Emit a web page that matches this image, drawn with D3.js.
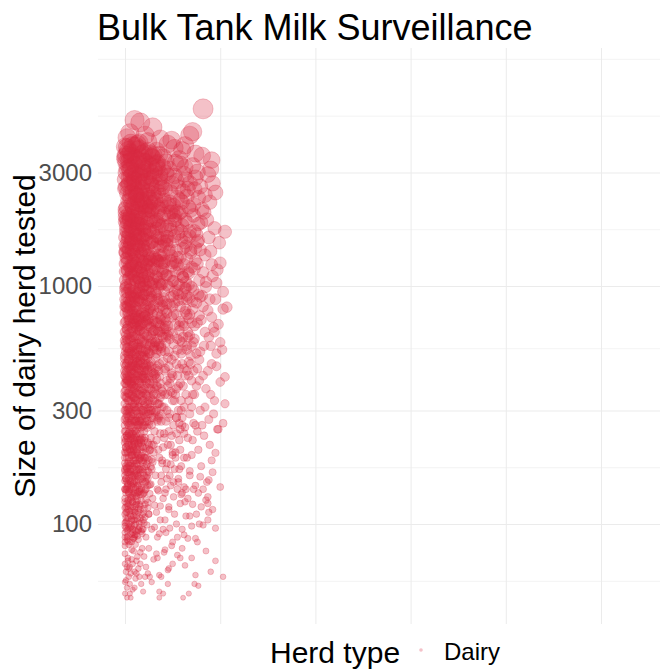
<!DOCTYPE html>
<html>
<head>
<meta charset="utf-8">
<script src="https://cdn.jsdelivr.net/npm/d3@7"></script>
<style>
  body { margin: 0; background: #fff; }
  svg { font-family: "Liberation Sans", Arial, sans-serif; display: block; }
  .tick text { fill: #4d4d4d; font-size: 24px; }
  .grid line { stroke: #ebebeb; }
</style>
</head>
<body>
<svg width="664" height="672"></svg>
<script>
"use strict";

const title = "Bulk Tank Milk Surveillance";
const yAxisLabel = "Size of dairy herd tested";
const legendTitle = "Herd type";
const herdTypes = ["Dairy"];

// y breaks (log scale) and the minor lines between them
const yTicks = [100, 300, 1000, 3000];
const yMinorTicks = [57.7, 173.2, 547.7, 1732, 5196, 9000];
const xTicks = [0, 100, 200, 300, 400, 500];

// [x position, herd size], grouped by herd size
const bandTop = [[82,5550],[10,4980],[16,4870],[29,4650],[2,4200],[37,4150],[68,4300],[71,4450],[5,4400],[21,4300],[45,3950],[52,3800],[24,4050],[8,3900],[13,3750],[33,3700],[0,3850],[60,3720],[49,4100],[18,3600],[4,3550],[28,3500],[40,3480],[11,3450],[57,3420],[74,3600],[0,3500],[6,3650],[36,3560],[15,4000],[81,3530],[91,3380],[63,3900]];

const band2k = [[1,3300],[4,3150],[7,3380],[10,3020],[13,3250],[16,2950],[19,3350],[22,3100],[25,2900],[28,3200],[31,3050],[34,3300],[37,2850],[40,3150],[43,2980],
  [0,2800],[3,2650],[6,2900],[9,2700],[12,2550],[15,2750],[18,2600],[21,2850],[24,2500],[27,2700],[30,2450],[33,2600],[36,2750],[39,2400],[42,2550],
  [2,2450],[5,2300],[8,2500],[11,2350],[14,2200],[17,2400],[20,2250],[23,2150],[26,2350],[29,2100],[32,2300],[35,2050],[38,2200],[41,2000],[44,2150],
  [0,2100],[3,2000],[6,2200],[9,2050],[12,2120],[15,2020],[18,2150],[21,2080],[24,2010],[27,2250],[1,2600],[4,2850],[7,2150],[10,2780],[13,2420],[16,2480],[19,3000],[22,2330],[25,3250],[28,2060],
  [46,3100],[49,2700],[52,2900],[55,2350],[58,3250],[61,2500],[64,2800],[67,2150],[47,2250],[50,2050],[53,3300],[56,2600],[59,2050],[62,2950],[65,2380],[68,2700],[48,2480],[51,2180],[54,2760],[57,2020],[60,2250],[63,3150],[66,2560],[69,2080],[45,2900],
  [76,3010],[87,2940],[84,2410],[95,2470],[79,2620],[72,2200],[74,2850],[81,2100],[89,2250],[92,2700],[71,3200],[77,2350],[83,2040],[73,2550],[90,3100]];

const core2k = [[3,3720],[17,2310],[8,2980],[29,3460],[1,2140],[22,2760],[11,3890],[35,2490],[6,3180],[14,2060],[26,3610],[0,2570],[19,3070],[9,2230],[31,2890],[4,3340],[24,2410],[13,3950],[38,2680],[2,3120],[16,2190],[28,2830],[7,3530],[21,2040],[33,3260],[10,2620],[5,2370],[27,3010],[15,3780],[41,2290],[12,2940],[0,3410],[23,2520],[18,3190],[36,2110],[7,2710],[30,3550],[3,2280],[20,3640],[11,2450],[25,2080],[1,2990],[32,2360],[14,3380],[9,2820],[39,2590],[5,3080],[17,3480],[22,2180],[2,3830],[28,2640],[13,2270],[34,3150],[6,2470],[19,2730],[0,2030],[43,3320],[10,3240],[26,2160],[4,2690],[15,2880],[8,2120],[37,2960],[24,3700],[12,2400],[1,3560],[30,2250],[18,2540],[6,3990],[21,3330]];

const band1k = [[0,1950],[2,1850],[4,1900],[6,1780],[8,1960],[10,1700],[12,1880],[14,1650],[16,1820],[18,1600],[20,1750],[22,1560],[24,1920],[26,1680],[28,1530],[30,1860],[32,1620],[34,1500],[36,1790],[38,1580],[40,1470],[42,1720],[44,1550],
  [1,1450],[3,1400],[5,1520],[7,1350],[9,1480],[11,1320],[13,1430],[15,1290],[17,1380],[19,1260],[21,1410],[23,1230],[25,1360],[27,1200],[29,1330],[31,1180],[33,1300],[35,1150],[37,1280],[39,1130],[41,1250],[43,1110],
  [0,1240],[2,1160],[4,1090],[6,1210],[8,1120],[10,1060],[12,1170],[14,1080],[16,1030],[18,1140],[20,1050],[22,1010],[24,1100],[26,1040],[28,1000],[30,1070],[32,1020],[34,1090],[36,1040],[38,1010],
  [1,1700],[3,1620],[5,1980],[7,1560],[9,1830],[11,1590],[13,1760],[15,1460],[17,1930],[19,1490],[21,1640],[23,1840],[0,1380],[2,1310],[5,1190],[9,1270],[13,1150],[17,1220],[21,1130],[25,1270],
  [46,1950],[48,1720],[50,1540],[52,1890],[54,1410],[56,1660],[58,1320],[60,1800],[62,1230],[64,1470],[66,1150],[68,1620],[47,1100],[49,1340],[51,1050],[53,1260],[55,1020],[57,1180],[59,1560],[61,1090],[63,1900],[65,1300],[67,1010],[69,1420],[45,1610],[50,1250],[55,1750],[60,1120],[65,1850],[70,1200],
  [105,1690],[100,1250],[97,1170],[72,1980],[76,1530],[80,1850],[84,1350],[88,1600],[92,1100],[74,1280],[78,1060],[82,1140],[86,1900],[90,1400],[94,1750],[96,1030],[73,1700],[79,1420],[85,1040],[91,1230],[99,1520],[77,1820]];

const core1k = [[2,1540],[15,1190],[7,1880],[31,1320],[0,1060],[20,1710],[11,1250],[37,1470],[4,1930],[25,1120],[9,1390],[44,1610],[16,1010],[1,1780],[28,1280],[13,1560],[6,1140],[35,1840],[19,1420],[3,1070],[23,1650],[10,1360],[40,1180],[5,1490],[17,1910],[29,1030],[0,1600],[12,1210],[33,1740],[8,1300],[21,1090],[46,1400],[14,1820],[2,1170],[26,1510],[7,1240],[38,1960],[18,1130],[4,1670],[31,1450],[11,1050],[24,1340],[0,1860],[15,1590],[42,1270],[6,1710],[20,1000],[9,1520],[27,1890],[1,1310],[13,1080],[34,1620],[17,1200],[3,1440],[22,1770],[10,1150],[36,1350],[5,1020],[19,1570],[30,1230],[12,1950],[0,1390],[8,1690],[25,1040],[14,1480],[44,1110],[2,1260],[18,1800],[6,1120],[29,1530],[11,1730],[39,1020],[4,1360],[23,1170],[16,1640],[1,1010],[32,1870],[7,1420],[21,1290],[9,1100],[26,1720],[3,1580],[14,1330],[47,1810],[0,1150],[19,1080],[12,1500],[35,1270],[5,1780],[24,1460],[10,1900],[28,1160],[2,1680],[17,1370],[41,1540],[7,1060],[22,1230],[13,1830],[0,1480],[30,1690],[8,1210],[15,1040],[4,1210],[20,1460],[11,1640],[26,1300],[33,1100],[6,1570],[18,1270],[1,1910]];

const band500 = [[0,980],[2,940],[4,970],[6,910],[8,950],[10,890],[12,930],[14,870],[16,990],[18,850],[20,920],[22,830],[24,960],[26,810],[28,900],[30,790],[32,940],[34,770],[36,880],[38,750],[40,860],[42,730],[44,840],
  [1,820],[3,780],[5,850],[7,760],[9,800],[11,740],[13,790],[15,720],[17,770],[19,700],[21,750],[23,690],[25,730],[27,670],[29,710],[31,650],[33,700],[35,640],[37,680],[39,620],[41,660],[43,610],
  [0,700],[2,660],[4,720],[6,640],[8,690],[10,620],[12,670],[14,600],[16,650],[18,590],[20,630],[22,570],[24,610],[26,560],[28,600],[30,550],[32,580],[34,540],[36,570],[38,530],
  [1,580],[3,550],[5,600],[7,530],[9,560],[11,520],[13,550],[15,510],[17,540],[19,505],[21,530],[23,500],[25,520],[0,510],[4,530],[8,510],[12,500],[16,860],[20,810],[24,760],[28,880],[2,890],[6,820],[10,730],[14,680],[18,920],
  [46,990],[48,900],[50,820],[52,950],[54,760],[56,870],[58,710],[60,930],[62,680],[64,800],[66,640],[68,890],[47,600],[49,740],[51,570],[53,690],[55,540],[57,650],[59,520],[61,610],[63,780],[65,560],[67,730],[69,510],[45,680],[50,630],[55,960],[60,580],[65,910],[70,700],[46,530],[52,850],[58,590],[64,980],[68,620],
  [103,945],[107,815],[103,800],[98,690],[93,670],[100,580],[102,540],[72,960],[75,850],[78,750],[81,910],[84,640],[87,790],[90,560],[95,880],[73,600],[76,700],[79,530],[82,820],[85,990],[88,610],[91,740],[96,520],[71,800],[77,920],[83,560],[89,880],[94,640]];

const core500 = [[3,760],[18,580],[9,910],[30,650],[1,530],[24,840],[12,620],[38,720],[5,970],[16,550],[27,690],[0,880],[21,510],[8,780],[34,600],[14,940],[2,660],[26,570],[11,820],[42,530],[6,700],[19,990],[31,560],[4,630],[15,750],[23,870],[0,590],[10,520],[36,810],[7,900],[20,640],[13,540],[28,950],[3,680],[17,730],[40,610],[9,570],[25,790],[1,850],[12,500],[33,920],[6,590],[22,710],[15,960],[0,770],[30,540],[8,650],[18,870],[4,510],[44,770],[11,690],[26,930],[2,550],[14,800],[37,640],[5,720],[20,580],[9,980],[29,760],[1,620],[16,680],[24,530],[7,850],[35,700],[12,570],[0,940],[19,740],[3,590],[27,620],[10,860],[41,890],[6,520],[22,960],[13,660],[32,580],[2,810],[17,510],[8,730],[25,680],[0,640],[15,890],[38,550],[4,870],[21,750],[11,550],[30,830],[7,610],[18,660],[1,710],[14,570],[27,800],[5,540],[23,620],[9,700],[35,980],[0,560],[12,780],[20,920],[3,830],[16,600],[43,660],[6,940],[26,520],[10,760],[31,710],[2,600],[19,530],[13,890],[24,720],[8,560],[39,830],[1,990],[15,650],[22,540],[5,800],[28,580],[11,940],[17,690],[0,820],[33,520],[4,740],[9,610],[20,770],[7,670],[14,730],[3,520],[25,900],[12,710],[29,640],[6,860]];

const band250 = [[0,495],[2,470],[4,490],[6,450],[8,480],[10,440],[12,475],[14,430],[16,465],[18,420],[20,455],[22,410],[24,445],[26,400],[28,435],[30,390],[32,425],[34,380],[36,415],[38,370],
  [1,430],[3,400],[5,420],[7,385],[9,410],[11,375],[13,400],[15,365],[17,390],[19,355],[21,380],[23,345],[25,370],[27,340],[29,360],[31,330],[33,350],[35,320],[37,340],[39,310],
  [0,360],[2,340],[4,355],[6,330],[8,345],[10,320],[12,335],[14,310],[16,325],[18,300],[20,315],[22,295],[24,305],[26,290],[28,300],[30,280],[32,295],[34,275],[36,285],[38,270],
  [1,300],[3,285],[5,295],[7,275],[9,290],[11,270],[13,280],[15,262],[17,275],[19,258],[21,268],[23,254],[25,262],[0,275],[4,260],[8,255],[12,250],[16,480],[20,440],[24,470],[28,460],[2,405],[6,395],[10,370],[14,450],[18,345],[22,460],[26,320],[30,430],[34,460],
  [40,480],[42,440],[44,400],[46,460],[48,360],[50,420],[52,330],[54,470],[56,300],[58,390],[60,280],[62,450],[64,350],[41,310],[43,270],[45,380],[47,290],[49,490],[51,260],[53,350],[55,420],[57,265],[59,330],[61,380],[63,255],[65,440],[42,350],[48,410],[54,280],[60,470],[44,300],[50,355],
  [105,415],[100,395],[105,320],[103,265],[97,250],[67,480],[70,400],[73,350],[76,450],[79,300],[82,420],[85,370],[88,275],[91,470],[94,330],[68,290],[72,265],[75,380],[78,490],[81,260],[84,310],[87,440],[90,350],[93,290],[96,460]];

const core250 = [[2,380],[14,290],[7,460],[25,330],[0,260],[19,420],[10,310],[31,370],[4,490],[16,270],[22,400],[1,340],[12,450],[28,280],[6,300],[35,440],[9,380],[17,255],[3,420],[24,350],[0,470],[13,330],[20,290],[8,410],[33,300],[5,265],[15,390],[27,480],[11,275],[2,310],[18,360],[37,390],[6,440],[23,270],[9,340],[0,300],[14,470],[30,350],[4,280],[21,430],[12,380],[1,460],[26,310],[7,350],[16,490],[34,270],[3,300],[19,330],[10,270],[29,410],[5,390],[13,260],[22,470],[0,420],[8,290],[17,440],[36,320],[2,270],[11,420],[24,290],[6,370],[15,310],[32,450],[1,390],[20,370],[9,460],[27,300],[4,330],[14,400],[0,345],[18,285],[10,490],[25,420],[3,355],[7,270],[21,320],[12,300],[38,350],[5,460],[16,350],[28,260],[2,440],[11,330],[23,390],[8,320],[0,390],[19,470],[6,260],[30,300],[13,420],[4,400],[17,300],[26,460],[1,280],[9,360],[22,280],[15,440],[33,380],[3,480],[20,260],[10,400],[7,430],[24,320],[0,320],[12,355],[18,410],[5,310],[35,280],[14,350],[2,400],[27,370],[8,470],[16,280],[11,300],[21,490],[4,450],[29,330],[1,365],[13,480],[19,300],[6,410],[25,270],[9,310],[31,420],[0,440],[17,370],[3,265],[23,440],[12,270],[7,390],[15,270],[26,390],[5,350],[10,340],[20,410],[2,290],[14,260],[8,370],[1,410],[18,330],[11,460],[6,285],[22,350],[4,305],[16,410],[9,430],[3,330]];

const band130 = [[0,245],[2,235],[4,240],[6,228],[8,238],[10,222],[12,232],[14,218],[16,228],[18,212],[20,224],[22,208],[24,220],[26,204],[28,215],[30,200],
  [1,210],[3,200],[5,206],[7,194],[9,202],[11,190],[13,198],[15,186],[17,194],[19,182],[21,190],[23,178],[25,186],[27,174],[29,182],
  [0,180],[2,172],[4,176],[6,166],[8,172],[10,162],[12,168],[14,158],[16,164],[18,154],[20,160],[22,150],[24,156],[26,146],
  [1,155],[3,148],[5,152],[7,144],[9,148],[11,140],[13,145],[15,137],[17,142],[19,134],[21,139],[0,140],[4,135],[8,132],[12,131],[16,133],
  [31,245],[33,225],[35,205],[37,240],[39,185],[41,230],[43,170],[45,215],[47,160],[49,235],[51,150],[53,200],[55,140],[57,225],[59,175],[32,160],[34,140],[36,190],[38,150],[40,210],[42,135],[44,180],[46,245],[48,145],[50,195],[52,170],[54,240],[56,155],[58,205],[60,135],
  [100,143],[95,199],[98,250],[87,130],[88,153],[77,135],[62,240],[65,190],[68,160],[71,225],[74,145],[77,205],[80,175],[83,235],[86,150],[89,215],[92,165],[64,140],[70,195],[76,245],[82,140],[91,185]];

const core130 = [[1,210],[9,160],[4,240],[17,185],[0,140],[13,225],[6,170],[22,200],[2,150],[11,245],[8,195],[19,150],[3,230],[15,170],[0,190],[7,140],[25,215],[12,180],[5,205],[20,135],[10,230],[1,175],[16,240],[4,155],[28,170],[9,205],[14,145],[2,235],[18,200],[6,130],[23,160],[0,220],[11,160],[7,215],[13,135],[3,180],[21,230],[8,150],[16,190],[1,135],[26,205],[10,175],[5,225],[19,165],[0,160],[14,215],[4,190],[24,145],[9,245],[2,165],[17,140],[12,200],[6,235],[22,175],[3,145],[15,225],[8,180],[1,245],[20,190],[11,135],[27,230],[7,160],[13,175],[0,200],[5,140],[18,230],[10,150],[4,215],[23,190],[2,190],[16,155],[9,135],[30,215],[6,180],[12,240],[1,155],[21,150],[14,195],[3,215],[8,230],[19,210],[0,170],[11,185],[25,165],[5,170],[15,140],[7,240],[2,205],[17,220],[10,195],[4,135],[13,160],[6,150],[1,225],[22,140],[9,185],[0,230],[12,150],[3,165],[18,170],[8,210],[16,210],[5,245],[11,210],[20,245],[2,140],[14,170],[7,195],[4,165],[10,220]];

const coreLow = [[2,88],[11,131],[5,176],[19,104],[0,152],[8,212],[14,95],[3,119],[24,167],[9,142],[1,199],[17,226],[6,108],[12,163],[0,84],[21,121],[4,137],[15,188],[7,90],[27,147],[10,104],[2,171],[18,133],[5,96],[13,206],[0,117],[23,99],[8,158],[16,115],[3,221],[11,94],[29,128],[6,146],[20,174],[1,106],[14,136],[9,87],[4,183],[25,110],[12,124],[0,167],[17,93],[7,129],[22,156],[2,112],[10,216],[15,101],[5,161],[31,97],[13,89],[1,139],[19,186],[8,118],[26,134],[3,95],[16,169],[11,112],[6,201],[21,107],[0,101],[14,152],[9,226],[4,121],[18,91],[12,179],[7,105],[24,123],[2,143],[10,90],[28,187]];

// the half-dense fringe to the right of the core
const fringe = [[52,1980],[38,1340],[71,860],[45,620],[63,1520],[33,410],[58,2300],[80,720],[41,950],[67,330],[49,1210],[36,560],[75,1650],[54,280],[43,790],[61,1090],[35,2150],[69,470],[47,1420],[57,680],[39,360],[73,1180],[51,910],[65,540],[44,1780],[78,400],[55,1320],[37,730],[60,260],[48,2050],[70,990],[42,450],[64,1600],[34,880],[56,380],[76,1240],[46,640],[62,310],[40,1150],[68,760],[53,1890],[32,500],[72,580],[50,1050],[66,230],[58,820],[38,290],[74,1450],[45,350],[59,1700],[35,650],[63,420],[48,1280],[79,900],[52,510],[41,240],[67,1130],[36,1590],[55,600],[70,310],[44,1010],[61,700],[33,1900],[57,450],[47,840],[75,520],[39,1250],[65,880],[50,200],[43,580],[69,1380],[54,370],[37,1020],[60,540],[46,2200],[72,440],[51,760],[34,320],[64,1040],[42,680],[58,250],[77,1550],[49,430],[40,800],[66,610],[53,1150],[36,470],[71,350],[44,1500],[56,920],[62,190],[38,560],[68,1700],[47,390],[55,1230],[73,680],[41,1360],[59,300],[35,860],[63,980],[48,215],[52,1620],[45,500],[67,420],[39,1800],[57,1010],[74,260],[43,710],[61,1440],[50,330],[65,760],[34,1280],[70,560],[54,2050],[46,280],[60,880]];

const fringeLow = [[33,112],[47,96],[62,143],[39,180],[55,88],[71,121],[44,155],[58,72],[36,91],[68,167],[51,130],[82,99],[41,76],[64,108],[35,138],[53,190],[76,84],[46,118],[60,95],[38,160],[72,140],[49,81],[85,126],[42,104],[57,170],[66,87],[34,72],[79,158],[52,110],[45,64],[63,124],[37,119],[70,98],[56,150],[48,178],[92,115],[40,95],[59,133],[75,110],[43,140]];

const band80 = [[0,128],[2,122],[4,126],[6,118],[8,124],[10,115],[12,121],[14,112],[16,119],[18,109],[20,116],
  [1,112],[3,106],[5,110],[7,103],[9,108],[11,100],[13,105],[15,97],[17,102],[19,95],
  [0,98],[2,94],[4,97],[6,91],[8,95],[10,88],[12,93],[14,86],[0,88],[3,85],[7,84],[11,82],
  [22,126],[25,110],[28,95],[31,120],[34,88],[37,104],[40,128],[43,92],[46,115],[50,84],[54,100],[58,122],[62,90],
  [88,112],[87,104],[87,122],[68,108],[74,87],[80,118],[95,96],[66,128],[78,100]];

const core80 = [[1,118],[7,98],[3,126],[12,108],[0,92],[5,113],[9,87],[15,121],[2,103],[18,95],[6,127],[11,90],[4,100],[14,116],[0,110],[8,123],[20,101],[3,89],[10,112],[1,96],[16,106],[5,84],[13,126],[7,114],[0,124],[22,88],[9,104],[2,86],[17,125],[6,97],[11,120],[4,82],[19,111],[8,92],[1,102],[14,94],[3,115],[10,99],[24,117],[0,81]];

const band50 = [[0,57],[2,54],[5,51],[2,49],[6,49],[10,54],[1,63],[5,66],[10,63],[17,56],[19,52],[15,60],[21,60],[26,60],[36,61],[45,56],[36,52],[40,51],[36,49],[61,49],[67,51],[74,61],[77,55],[73,56],[90,63],[103,60],[63,67],[50,68],[46,65],[38,60],
  [0,75],[3,72],[7,78],[12,70],[16,76],[20,73],[25,79],[30,71],[8,68],[14,65],[0,68],[4,60],[22,66],[28,57],[33,75],[42,78],[55,74],[60,79],[70,72],[85,77],[95,70],
  [1,58],[4,65],[8,53],[3,70],[11,59],[6,62],[0,51],[13,73],[9,77],[2,66],[5,56],[16,68],[12,62],[7,71],[18,79],[24,62]];

const svg = d3.select("svg");
const width = +svg.attr("width");
const height = +svg.attr("height");

const pointColor = "#d92942";
const pointAlpha = 0.29;

const render = data => {
  const xValue = d => d[0];
  const yValue = d => d[1];
  const margin = { top: 48, right: 4, bottom: 48, left: 98 };
  const innerWidth = width - margin.left - margin.right;
  const innerHeight = height - margin.top - margin.bottom;

  const xScale = d3.scaleLinear()
    .domain([-28.4, 562])
    .range([0, innerWidth]);

  const yScale = d3.scaleLog()
    .domain([38, 10000])
    .range([innerHeight, 0]);

  const minSize = d3.min(data, yValue);
  const maxSize = d3.max(data, yValue);
  const rScale = d3.scaleSqrt()
    .domain([0, maxSize - minSize])
    .range([2.5, 10]);

  const g = svg.append("g")
    .attr("transform", `translate(${margin.left},${margin.top})`);

  // minor grid
  g.append("g")
    .attr("class", "grid")
    .call(d3.axisLeft(yScale).tickValues(yMinorTicks).tickSize(-innerWidth).tickFormat(""))
    .call(s => s.select(".domain").remove())
    .selectAll("line").attr("stroke-width", 0.6);

  g.append("g")
    .attr("class", "grid")
    .attr("transform", `translate(0,${innerHeight})`)
    .call(d3.axisBottom(xScale).tickValues(xTicks).tickSize(-innerHeight).tickFormat(""))
    .call(s => s.select(".domain").remove())
    .selectAll("line").attr("stroke-width", 1);

  const yAxisG = g.append("g")
    .attr("class", "grid")
    .call(d3.axisLeft(yScale)
      .tickValues(yTicks)
      .tickSize(-innerWidth)
      .tickPadding(6)
      .tickFormat(d3.format("d")));
  yAxisG.select(".domain").remove();
  yAxisG.selectAll("line").attr("stroke-width", 1.1);

  g.append("g")
    .selectAll("circle")
    .data(data)
    .enter()
    .append("circle")
    .attr("cx", d => xScale(xValue(d)))
    .attr("cy", d => yScale(yValue(d)))
    .attr("r", d => rScale(yValue(d) - minSize))
    .attr("fill", pointColor)
    .attr("fill-opacity", pointAlpha)
    .attr("stroke", pointColor)
    .attr("stroke-opacity", pointAlpha)
    .attr("stroke-width", 0.9);

  svg.append("text")
    .attr("x", 97)
    .attr("y", 40)
    .attr("font-size", 36)
    .attr("fill", "#000")
    .text(title);

  svg.append("text")
    .attr("transform", `translate(35,${margin.top + innerHeight / 2}) rotate(-90)`)
    .attr("text-anchor", "middle")
    .attr("font-size", 30)
    .attr("fill", "#000")
    .text(yAxisLabel);

  // legend
  const legend = svg.append("g").attr("transform", "translate(270,663)");
  legend.append("text")
    .attr("font-size", 30)
    .text(legendTitle);
  legend.selectAll("circle")
    .data(herdTypes)
    .enter()
    .append("circle")
    .attr("cx", 151)
    .attr("cy", -13)
    .attr("r", 1.8)
    .attr("fill", pointColor)
    .attr("fill-opacity", pointAlpha);
  legend.selectAll(".legend")
    .data(herdTypes)
    .enter()
    .append("text")
    .attr("class", "legend")
    .attr("x", 174)
    .attr("y", -3)
    .attr("font-size", 24)
    .text(d => d);
};

render([
  ...bandTop, ...band2k, ...core2k, ...band1k, ...core1k, ...band500, ...core500,
  ...band250, ...core250, ...band130, ...core130, ...coreLow, ...fringe, ...fringeLow,
  ...band80, ...core80, ...band50
]);
</script>
</body>
</html>
